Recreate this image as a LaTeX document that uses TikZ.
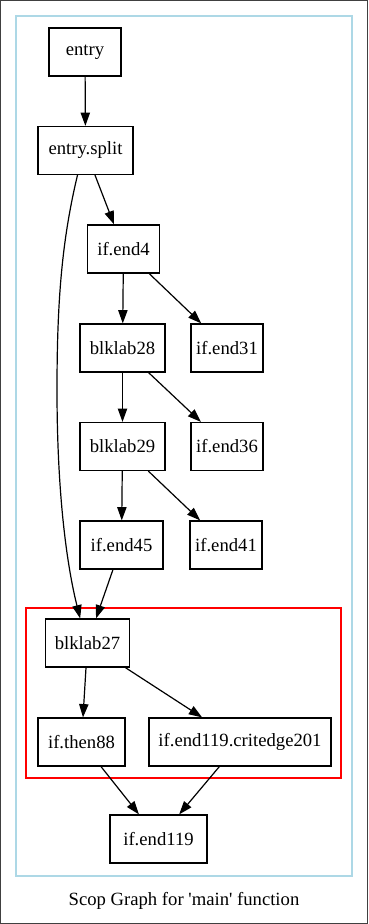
\documentclass[tikz,border=0pt]{standalone}
\usepackage{fontspec}
\newfontfamily\gvfont{Liberation Serif}
\usetikzlibrary{arrows.meta}
\definecolor{gvblue}{HTML}{ADD8E6}
\begin{document}
\begin{tikzpicture}[x=0.75pt,y=-0.75pt,
  every node/.style={font=\gvfont\fontsize{14pt}{16pt}\selectfont},
  bb/.style={draw,line width=0.9pt,minimum height=36pt,inner sep=0pt,anchor=center},
  edge/.style={draw,line width=0.9pt,-{Triangle[length=10pt,width=7pt]}}]
% frame and clusters
\useasboundingbox (0,0) rectangle (368,924);
\draw[line width=0.9pt,black!75] (0.6,0.6) rectangle (367.4,923.4);
\draw[gvblue,line width=0.9pt] (16,16) rectangle (352,876);
\draw[red,line width=0.9pt] (26,608) rectangle (341,778);
% blocks
\node[bb,minimum width=54pt] (entry) at (85,52) {entry};
\node[bb,minimum width=71.25pt] (split) at (85.5,150.5) {entry.split};
\node[bb,minimum width=54pt] (e4) at (123.5,249) {if.end4};
\node[bb,minimum width=63.75pt] (b28) at (122.5,348) {blklab28};
\node[bb,minimum width=54pt] (e31) at (227,348) {if.end31};
\node[bb,minimum width=63.75pt] (b29) at (122.5,446.5) {blklab29};
\node[bb,minimum width=54pt] (e36) at (227,446.5) {if.end36};
\node[bb,minimum width=62.25pt] (e45) at (121.5,545) {if.end45};
\node[bb,minimum width=54pt] (e41) at (226,545) {if.end41};
\node[bb,minimum width=63pt] (b27) at (87.5,643) {blklab27};
\node[bb,minimum width=65.25pt] (t88) at (81.5,742) {if.then88};
\node[bb,minimum width=136.5pt] (crit) at (240,742) {if.end119.critedge201};
\node[bb,minimum width=72.75pt] (e119) at (158.5,839) {if.end119};
\node (caption) at (184,901) {Scop Graph for 'main' function};
% edges
\path[edge] (entry) -- (split);
\path[edge] (split) -- (e4);
\path[edge] ([xshift=-6pt]split.south) .. controls (62,240) and (57,300) .. (57,390)
  .. controls (57,500) and (68,570) .. ([xshift=-5.5pt]b27.north);
\path[edge] (e4) -- (b28);
\path[edge] (e4) -- (e31);
\path[edge] (b28) -- (b29);
\path[edge] (b28) -- (e36);
\path[edge] (b29) -- (e45);
\path[edge] (b29) -- (e41);
\path[edge] (e45) -- (b27);
\path[edge] (b27) -- (t88);
\path[edge] (b27) -- (crit);
\path[edge] (t88) -- (e119);
\path[edge] (crit) -- (e119);
\end{tikzpicture}
\end{document}
